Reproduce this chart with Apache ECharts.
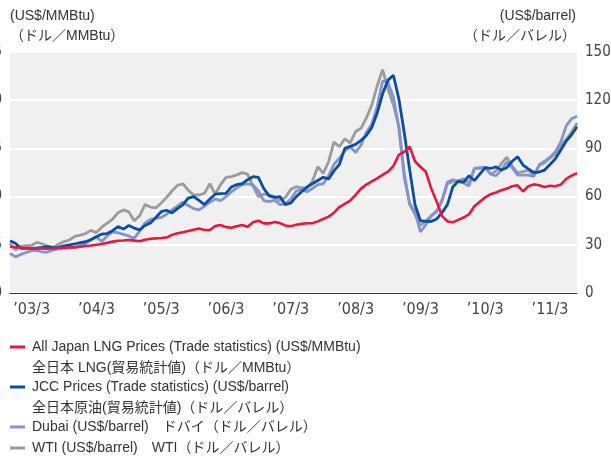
<!DOCTYPE html>
<html>
<head>
<meta charset="utf-8">
<script src="https://cdn.jsdelivr.net/npm/echarts@6/dist/echarts.min.js"></script>
<style>
  html, body { margin: 0; padding: 0; background: #fff; }
  #main { width: 611px; height: 458px; }
</style>
</head>
<body>
<div id="main"></div>
<script>
// months from 2002/11 to 2011/08
const startYear = 2002, startMonth = 11, monthCount = 106;
const months = [];
for (let i = 0; i < monthCount; i++) {
  const m = startMonth - 1 + i;
  const y = startYear + Math.floor(m / 12);
  months.push(y + '/' + String(m % 12 + 1).padStart(2, '0'));
}

// All Japan LNG (US$/MMBtu, left axis)
const lngValues = [
  4.80, 4.75, 4.70, 4.67, 4.63, 4.63, 4.63, 4.60, 4.63, 4.67,
  4.70, 4.73, 4.73, 4.80, 4.87, 4.93, 5.00, 5.08, 5.20, 5.33,
  5.42, 5.45, 5.50, 5.43, 5.37, 5.53, 5.63, 5.67, 5.70, 5.75,
  6.03, 6.20, 6.30, 6.43, 6.57, 6.70, 6.53, 6.53, 6.95, 7.05,
  6.83, 6.77, 6.93, 7.05, 6.88, 7.33, 7.50, 7.22, 7.22, 7.37,
  7.25, 7.00, 6.92, 7.08, 7.17, 7.23, 7.23, 7.43, 7.67, 7.92,
  8.33, 8.92, 9.25, 9.58, 10.17, 10.83, 11.25, 11.58, 11.90, 12.25,
  12.58, 13.17, 14.33, 14.63, 15.17, 13.67, 13.10, 12.58, 10.85, 9.50,
  8.00, 7.42, 7.33, 7.58, 7.83, 8.17, 9.00, 9.47, 9.92, 10.25,
  10.42, 10.67, 10.83, 11.08, 11.17, 10.53, 11.08, 11.27, 11.17, 11.00,
  11.13, 11.08, 11.25, 11.83, 12.17, 12.42
];
// JCC (US$/barrel, right axis)
const jccValues = [
  32.5, 31.0, 27.8, 27.8, 27.8, 28.0, 28.4, 28.8, 28.2, 28.4,
  29.4, 29.9, 30.5, 31.3, 31.9, 33.3, 35.0, 36.7, 37.0, 38.8,
  41.3, 39.8, 42.0, 40.4, 39.2, 42.0, 43.6, 47.0, 50.6, 51.5,
  49.8, 52.5, 54.8, 59.0, 60.0, 57.6, 55.0, 58.5, 61.5, 61.8,
  62.0, 66.0, 67.5, 68.0, 70.5, 72.4, 72.0, 65.0, 60.5, 59.5,
  60.0, 55.0, 56.0, 60.0, 63.0, 66.0, 68.0, 70.0, 72.0, 71.0,
  76.0, 80.0, 90.0, 91.3, 92.5, 95.0, 98.0, 103.0, 112.0, 124.0,
  132.5, 135.5, 121.0, 100.0, 77.0, 55.0, 45.0, 44.6, 44.5, 46.0,
  50.0, 55.0, 66.0, 69.5, 69.0, 73.0, 70.0, 74.0, 78.0, 77.5,
  78.5, 76.5, 78.0, 82.0, 84.8, 79.6, 77.2, 75.0, 75.3, 76.5,
  80.0, 83.5, 89.0, 94.5, 98.5, 103.5
];
// Dubai (US$/barrel, right axis)
const dubaiValues = [
  24.7, 22.5, 24.0, 25.2, 26.4, 26.5, 25.5, 25.5, 26.8, 27.5,
  28.0, 28.2, 28.4, 29.5, 30.9, 33.0, 35.0, 32.0, 35.5, 38.0,
  37.5, 36.5, 35.5, 34.0, 38.5, 43.5, 45.8, 46.4, 47.0, 49.0,
  51.7, 54.0, 56.5, 54.5, 52.5, 51.7, 54.0, 56.5, 58.5, 57.5,
  60.0, 63.0, 65.5, 67.5, 68.0, 67.2, 63.5, 57.5, 56.8, 57.8,
  55.0, 55.5, 58.5, 63.5, 64.5, 63.0, 65.0, 67.5, 68.0, 73.0,
  80.0, 84.0, 88.5, 91.0, 87.5, 92.0, 100.0, 105.0, 116.0, 132.0,
  131.0, 122.0, 103.0, 72.0, 56.0, 50.6, 38.0, 42.5, 48.0, 50.5,
  58.0, 69.0, 70.5, 69.5, 68.5, 66.5, 77.6, 78.0, 78.0, 74.0,
  73.0, 76.5, 81.5, 78.0, 73.4, 73.4, 73.4, 72.5, 79.8, 82.0,
  84.5, 88.0, 94.0, 104.0, 108.5, 110.0
];
// WTI (US$/barrel, right axis)
const wtiValues = [
  30.9, 26.8, 29.0, 29.4, 29.7, 31.5, 30.5, 29.2, 28.4, 30.4,
  32.0, 33.0, 35.3, 36.0, 37.0, 39.0, 37.6, 41.0, 43.5, 46.0,
  50.0, 51.7, 50.5, 45.0, 48.0, 55.0, 53.5, 53.0, 56.0, 59.5,
  63.5, 67.0, 68.0, 64.0, 61.0, 61.0, 62.0, 68.0, 61.5, 67.5,
  72.0, 72.4, 73.5, 74.9, 74.0, 66.5, 60.0, 61.5, 61.0, 60.0,
  57.5, 59.5, 64.5, 66.2, 65.5, 65.2, 69.5, 78.6, 74.5, 81.7,
  94.0, 91.0, 96.0, 93.5, 100.5, 102.5, 109.0, 117.0, 129.0, 139.0,
  127.0, 117.0, 104.0, 75.0, 55.0, 49.0, 42.0, 45.0, 48.0, 51.0,
  57.0, 68.0, 69.3, 70.0, 71.0, 68.5, 77.6, 77.6, 78.3, 74.0,
  76.0, 80.5, 84.5, 79.0, 74.7, 75.5, 76.5, 73.0, 79.3, 81.0,
  84.0, 86.5, 92.0, 95.5, 100.4, 105.6
];

const seriesNames = [
  'All Japan LNG Prices (Trade statistics) (US$/MMBtu)',
  'JCC Prices (Trade statistics) (US$/barrel)',
  'Dubai (US$/barrel)\u3000ドバイ（ドル／バレル）',
  'WTI (US$/barrel)\u3000WTI（ドル／バレル）'
];
const seriesSubNames = [
  '全日本 LNG(貿易統計値)（ドル／MMBtu）',
  '全日本原油(貿易統計値)（ドル／バレル）'
];
const colors = ['#e8173c', '#0a4ea3', '#8492d2', '#9b9b9b'];

const narrowFont = '"Liberation Sans Narrow", "DejaVu Sans Condensed", "Roboto", sans-serif';
const textFont = '"Liberation Sans", "Noto Sans CJK JP", sans-serif';

const myChart = echarts.init(document.getElementById('main'));

function legendAt(idx, top) {
  return {
    left: 10,
    top: top,
    padding: 0,
    icon: 'rect',
    itemWidth: 15,
    itemHeight: 3,
    itemGap: 0,
    selectedMode: false,
    data: [seriesNames[idx]],
    textStyle: { color: '#333', fontSize: 14, fontFamily: textFont, padding: [0, 0, 0, 2] }
  };
}

function unitTitle(text, pos, top) {
  return Object.assign({
    text: text,
    top: top,
    padding: 0,
    textStyle: { color: '#333', fontSize: 14, fontWeight: 'normal', fontFamily: textFont }
  }, pos);
}

const option = {
  animation: false,
  backgroundColor: '#fff',
  title: [
    unitTitle('(US$/MMBtu)', { left: 10 }, 9),
    unitTitle('（ドル／MMBtu）', { left: 10 }, 29),
    unitTitle('(US$/barrel)', { right: 35 }, 9),
    unitTitle('（ドル／バレル）', { right: 35 }, 29)
  ],
  legend: [legendAt(0, 340), legendAt(1, 380), legendAt(2, 420), legendAt(3, 441)],
  graphic: [
    {
      type: 'text', left: 32, top: 361,
      style: { text: seriesSubNames[0], fill: '#333', font: '14px ' + textFont }
    },
    {
      type: 'text', left: 32, top: 401,
      style: { text: seriesSubNames[1], fill: '#333', font: '14px ' + textFont }
    }
  ],
  grid: {
    left: 10,
    right: 34,
    top: 52,
    bottom: 165,
    show: true,
    backgroundColor: '#f0f0f0',
    borderWidth: 0,
    containLabel: false,
    outerBoundsMode: 'none'
  },
  xAxis: {
    type: 'category',
    data: months,
    boundaryGap: false,
    axisLine: { show: true, lineStyle: { color: '#333', width: 1 } },
    axisTick: { show: false },
    splitLine: { show: false },
    axisLabel: {
      interval: (index, value) => value.endsWith('/03'),
      formatter: (value) => '\u2019' + value.slice(2, 4) + '/3',
      color: '#444',
      fontSize: 16,
      fontFamily: narrowFont,
      margin: 9
    }
  },
  yAxis: [
    {
      type: 'value',
      position: 'left',
      min: 0,
      max: 25,
      interval: 5,
      axisLine: { show: false },
      axisTick: { show: false },
      splitLine: { show: true, lineStyle: { color: '#ffffff', width: 2 } },
      axisLabel: { color: '#444', fontSize: 15, fontFamily: narrowFont, margin: 8 }
    },
    {
      type: 'value',
      position: 'right',
      min: 0,
      max: 150,
      interval: 30,
      axisLine: { show: false },
      axisTick: { show: false },
      splitLine: { show: false },
      axisLabel: { color: '#444', fontSize: 15, fontFamily: narrowFont, margin: 8 }
    }
  ],
  series: [
    {
      name: seriesNames[3], type: 'line', yAxisIndex: 1, data: wtiValues,
      symbol: 'none', color: colors[3], lineStyle: { width: 2.8, color: colors[3] }
    },
    {
      name: seriesNames[2], type: 'line', yAxisIndex: 1, data: dubaiValues,
      symbol: 'none', color: colors[2], lineStyle: { width: 2.8, color: colors[2] }
    },
    {
      name: seriesNames[1], type: 'line', yAxisIndex: 1, data: jccValues,
      symbol: 'none', color: colors[1], lineStyle: { width: 2.8, color: colors[1] }
    },
    {
      name: seriesNames[0], type: 'line', yAxisIndex: 0, data: lngValues,
      symbol: 'none', color: colors[0], lineStyle: { width: 2.6, color: colors[0] }
    }
  ]
};

myChart.setOption(option);
</script>
</body>
</html>
